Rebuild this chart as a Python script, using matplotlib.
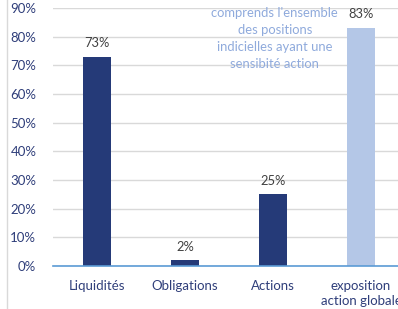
import matplotlib
matplotlib.use("Agg")
import matplotlib.pyplot as plt
from matplotlib.lines import Line2D
from matplotlib.ticker import PercentFormatter

plt.rcParams["font.family"] = ["Lato", "DejaVu Sans"]

categories = ["Liquidités", "Obligations", "Actions", "exposition\naction globale"]
values = [0.73, 0.02, 0.25, 0.83]
value_labels = ["73%", "2%", "25%", "83%"]
bar_colors = ["#253A78", "#253A78", "#253A78", "#B4C7E7"]
note = "comprends l'ensemble\ndes positions\nindicielles ayant une\nsensibité action"
yticks = [0, 0.1, 0.2, 0.3, 0.4, 0.5, 0.6, 0.7, 0.8, 0.9]


def main():
    fig = plt.figure(figsize=(3.98, 3.09), dpi=100)
    ax = fig.add_axes([53 / 398, 1 - 266 / 309, 352 / 398, 258 / 309])

    x = list(range(len(categories)))
    ax.bar(x, values, width=0.31, color=bar_colors, zorder=3)
    for xi, v, lab in zip(x, values, value_labels):
        ax.text(xi, v + 0.048, lab, ha="center", va="center",
                fontsize=9.3, color="#404040", zorder=4)

    ax.text(2.02, 0.795, note, ha="center", va="center", fontsize=9.4,
            color="#8FAADC", linespacing=1.5, zorder=5)

    ax.set_xlim(-0.5, 3.5)
    ax.set_ylim(0, 0.9)
    ax.set_yticks(yticks)
    ax.yaxis.set_major_formatter(PercentFormatter(1.0, decimals=0))
    ax.set_xticks(x)
    ax.set_xticklabels(categories, linespacing=1.3)
    ax.tick_params(axis="y", length=0, pad=12, labelsize=9.5, labelcolor="#2F3E7A")
    ax.tick_params(axis="x", length=0, pad=10, labelsize=9.5, labelcolor="#2F3E7A")

    ax.grid(axis="y", color="#D9D9D9", linewidth=1, zorder=0)
    for side in ["top", "right", "left"]:
        ax.spines[side].set_visible(False)
    ax.spines["bottom"].set_color("#5B9BD5")
    ax.spines["bottom"].set_linewidth(1.2)
    ax.spines["bottom"].set_zorder(4)

    # chart frame border on the left
    fig.add_artist(Line2D([6.5 / 398, 6.5 / 398], [0, 1], color="#D9D9D9",
                          linewidth=1, transform=fig.transFigure))

    fig.savefig("out.png", dpi=100)


if __name__ == "__main__":
    main()
